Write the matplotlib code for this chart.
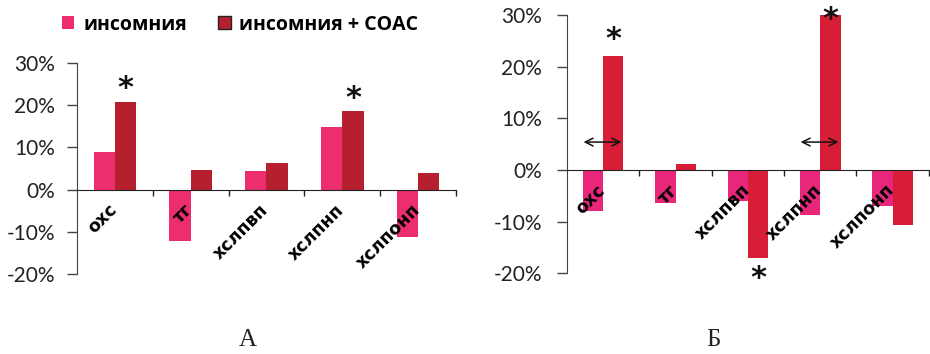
import matplotlib
matplotlib.use("Agg")
import matplotlib.pyplot as plt
from matplotlib.patches import Patch
from matplotlib.ticker import FuncFormatter, FixedLocator
from matplotlib.transforms import ScaledTranslation

# Lipid profile changes, % relative to control
categories = ["охс", "тг", "хслпвп", "хслпнп", "хслпонп"]

a_insomnia = [9.0, -12.1, 4.4, 14.8, -11.3]
a_insomnia_osa = [20.7, 4.6, 6.3, 18.7, 3.9]

b_insomnia = [-7.9, -6.4, -6.0, -8.8, -7.0]
b_insomnia_osa = [22.1, 1.2, -17.1, 29.9, -10.7]

# significance marks: (category index, y position in %)
a_stars = [(0, 24.0), (3, 21.6)]
b_stars = [(0, 25.2), (3, 29.2), (2, -21.0)]
# double arrows in panel B: (category index, y level in %)
b_arrows = [(0, 5.4), (3, 5.4)]

legend_labels = ["инсомния", "инсомния + СОАС"]
panel_labels = ["А", "Б"]
yticks = [-20, -10, 0, 10, 20, 30]

PINK_A = "#ec2d6e"
DARK_A = "#b51f2e"
PINK_B = "#e8267a"
RED_B = "#d81e36"

fig = plt.figure(figsize=(9.3, 3.54), dpi=100)
ax_a = fig.add_axes([0.0828, 0.226, 0.4075, 0.596])
ax_b = fig.add_axes([0.6097, 0.228, 0.389, 0.7297])

W = 0.28
x = list(range(len(categories)))
pct = FuncFormatter(lambda v, _: f"{v:.0f}%")
label_shift = ScaledTranslation(-5 / 72, 0, fig.dpi_scale_trans)


def style_axes(ax, ypad):
    ax.set_xlim(-0.5, len(categories) - 0.5)
    ax.set_ylim(-20, 30)
    for s in ("top", "right"):
        ax.spines[s].set_visible(False)
    ax.spines["left"].set_color("#444444")
    ax.spines["bottom"].set_color("#222222")
    ax.spines["bottom"].set_position(("data", 0))
    ax.set_yticks(yticks)
    ax.yaxis.set_major_formatter(pct)
    ax.tick_params(axis="y", direction="out", length=7, width=1,
                   color="#444444", labelsize=15, pad=ypad)
    for t in ax.get_yticklabels():
        t.set_fontfamily("Lato")
        t.set_color("#222222")
    ax.set_xticks(x)
    ax.set_xticklabels(categories, rotation=45, ha="right", va="top",
                       rotation_mode="anchor", fontsize=12.5,
                       fontweight="bold", family="DejaVu Sans")
    ax.tick_params(axis="x", which="major", length=0, pad=8)
    for t in ax.get_xticklabels():
        t.set_transform(t.get_transform() + label_shift)
    ax.xaxis.set_minor_locator(FixedLocator([i + 0.5 for i in x]))
    ax.tick_params(axis="x", which="minor", direction="out", length=4,
                   width=1, color="#222222")
    ax.xaxis.set_zorder(5)


# Panel A
ax_a.bar([i - W / 2 for i in x], a_insomnia, width=W, color=PINK_A, zorder=2)
ax_a.bar([i + W / 2 for i in x], a_insomnia_osa, width=W, color=DARK_A,
         zorder=2)
style_axes(ax_a, 9)
for i, y in a_stars:
    ax_a.text(i + W / 2, y, "*", ha="center", va="center", fontsize=22,
              fontweight="bold", color="#111111")

# Panel B
ax_b.bar([i - W / 2 for i in x], b_insomnia, width=W, color=PINK_B, zorder=2)
ax_b.bar([i + W / 2 for i in x], b_insomnia_osa, width=W, color=RED_B, zorder=2)
style_axes(ax_b, 11)
for i, y in b_stars:
    ax_b.text(i + W / 2, y, "*", ha="center", va="center", fontsize=22,
              fontweight="bold", color="#111111", zorder=6)
for i, y in b_arrows:
    ax_b.annotate("", xy=(i + 0.29, y), xytext=(i - 0.31, y),
                  arrowprops=dict(arrowstyle="<->", color="#111111", lw=1.1,
                                  mutation_scale=14), zorder=6)

# Legend above panel A
handles = [Patch(facecolor=PINK_A, edgecolor="none"),
           Patch(facecolor=DARK_A, edgecolor="#222222", linewidth=1)]
fig.legend(handles, legend_labels, ncol=2, loc="center",
           bbox_to_anchor=(0.258, 0.93), frameon=False,
           prop=dict(family="Open Sans", weight="bold", size=14),
           handlelength=0.65, handleheight=0.65, handletextpad=0.45,
           columnspacing=1.6)

# Panel captions
fig.text(0.266, 0.04, panel_labels[0], ha="center", va="center",
         fontsize=18, family="Liberation Serif", color="#222222")
fig.text(0.767, 0.04, panel_labels[1], ha="center", va="center",
         fontsize=18, family="Liberation Serif", color="#222222")

fig.savefig("out.png", dpi=100)
